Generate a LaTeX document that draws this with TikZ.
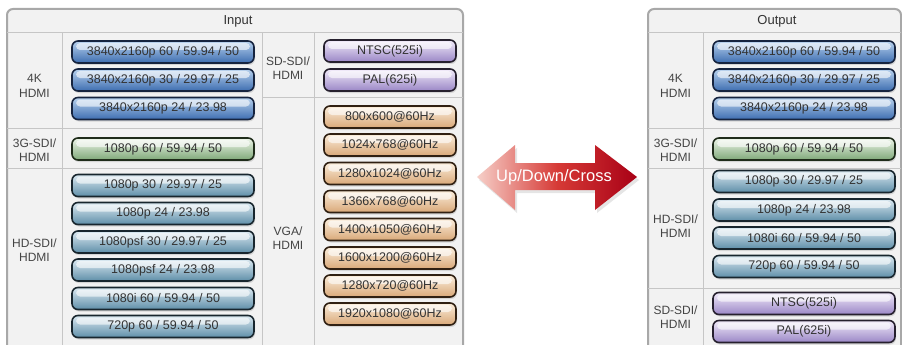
\documentclass[tikz,border=0pt]{standalone}
\usepackage{fontspec}
\setmainfont{Liberation Sans}
\usetikzlibrary{shadows}
\definecolor{txt}{HTML}{333333}
\definecolor{lbl}{HTML}{444444}
\definecolor{panelbg}{HTML}{F2F2F2}
\definecolor{panelbd}{HTML}{A8A8A8}
\definecolor{divider}{HTML}{C6C6C6}
\definecolor{bluedk}{HTML}{16243F}
\definecolor{bluelt}{HTML}{B8D2EE}
\definecolor{bluemd}{HTML}{3D6DB0}
\definecolor{greendk}{HTML}{1F2C1A}
\definecolor{greenlt}{HTML}{EEF6EA}
\definecolor{greenmd}{HTML}{7FA878}
\definecolor{tealdk}{HTML}{18262E}
\definecolor{teallt}{HTML}{DCEAF2}
\definecolor{tealmd}{HTML}{5E8EA8}
\definecolor{purpdk}{HTML}{26202E}
\definecolor{purplt}{HTML}{F2ECFA}
\definecolor{purpmd}{HTML}{9A86C6}
\definecolor{tandk}{HTML}{302012}
\definecolor{tanlt}{HTML}{FBEEDC}
\definecolor{tanmd}{HTML}{D9A878}
\definecolor{arrowlt}{HTML}{F6CFC8}
\definecolor{arrowmd}{HTML}{D63A36}
\definecolor{arrowdk}{HTML}{A80016}
\begin{document}
\begin{tikzpicture}[x=1pt,y=-1pt,
  btn/.style={rounded corners=6pt, line width=1.6pt, minimum height=22pt,
    inner sep=0pt, font=\fontsize{12.5}{14}\selectfont, text=txt,
    drop shadow={shadow xshift=1pt, shadow yshift=-2pt, opacity=0.25},
    path picture={\fill[white, opacity=0.6, rounded corners=4pt]
      ([xshift=4pt,yshift=-2pt]path picture bounding box.north west) rectangle
      ([xshift=-4pt,yshift=-9pt]path picture bounding box.north east);}},
  bwide/.style={btn, minimum width=182pt},
  bnarrow/.style={btn, minimum width=132pt},
  bblue/.style={draw=bluedk, top color=bluelt, bottom color=bluemd},
  bgreen/.style={draw=greendk, top color=greenlt, bottom color=greenmd},
  bteal/.style={draw=tealdk, top color=teallt, bottom color=tealmd},
  bpurp/.style={draw=purpdk, top color=purplt, bottom color=purpmd},
  btan/.style={draw=tandk, top color=tanlt, bottom color=tanmd},
  panel/.style={fill=panelbg, draw=panelbd, line width=2pt, rounded corners=6pt},
  divline/.style={draw=divider, line width=1pt},
  rowlabel/.style={align=center, font=\fontsize{12}{14.5}\selectfont, text=lbl},
  header/.style={font=\fontsize{13}{15}\selectfont, text=txt}
]
\useasboundingbox (0,0) rectangle (902,345);
\clip (0,0) rectangle (902,345);
\fill[white] (0,0) rectangle (902,345);

% ---------- Input panel ----------
\path[panel] (7,9) rectangle (463,370);
\draw[divline] (7,33) -- (463,33);
\draw[divline] (62,33) -- (62,370);
\draw[divline] (262,33) -- (262,370);
\draw[divline] (314,33) -- (314,370);
\draw[divline] (7,128) -- (262,128);
\draw[divline] (7,168) -- (262,168);
\draw[divline] (262,97) -- (463,97);
\node[header] (inhead) at (238,21) {Input};

\node[rowlabel] (in4k) at (34.5,86) {4K\\HDMI};
\node[rowlabel] (in3g) at (34.5,150) {3G-SDI/\\HDMI};
\node[rowlabel] (inhd) at (34.5,250) {HD-SDI/\\HDMI};
\node[rowlabel] (insd) at (288,68) {SD-SDI/\\HDMI};
\node[rowlabel] (invga) at (288,238) {VGA/\\HDMI};

\node[bwide,bblue] (i1) at (163,52) {3840x2160p 60 / 59.94 / 50};
\node[bwide,bblue] (i2) at (163,80) {3840x2160p 30 / 29.97 / 25};
\node[bwide,bblue] (i3) at (163,108.5) {3840x2160p 24 / 23.98};
\node[bwide,bgreen] (i4) at (163,149) {1080p 60 / 59.94 / 50};
\node[bwide,bteal] (i5) at (163,185.5) {1080p 30 / 29.97 / 25};
\node[bwide,bteal] (i6) at (163,213.5) {1080p 24 / 23.98};
\node[bwide,bteal] (i7) at (163,242) {1080psf 30 / 29.97 / 25};
\node[bwide,bteal] (i8) at (163,270) {1080psf 24 / 23.98};
\node[bwide,bteal] (i9) at (163,298.5) {1080i 60 / 59.94 / 50};
\node[bwide,bteal] (i10) at (163,326.5) {720p 60 / 59.94 / 50};

\node[bnarrow,bpurp] (j1) at (390,51) {NTSC(525i)};
\node[bnarrow,bpurp] (j2) at (390,80) {PAL(625i)};
\node[bnarrow,btan] (j3) at (390,117) {800x600@60Hz};
\node[bnarrow,btan] (j4) at (390,145) {1024x768@60Hz};
\node[bnarrow,btan] (j5) at (390,173.5) {1280x1024@60Hz};
\node[bnarrow,btan] (j6) at (390,201.5) {1366x768@60Hz};
\node[bnarrow,btan] (j7) at (390,229.5) {1400x1050@60Hz};
\node[bnarrow,btan] (j8) at (390,258) {1600x1200@60Hz};
\node[bnarrow,btan] (j9) at (390,286) {1280x720@60Hz};
\node[bnarrow,btan] (j10) at (390,314) {1920x1080@60Hz};

% ---------- Arrow ----------
\path[left color=arrowlt, right color=arrowdk, middle color=arrowmd,
  drop shadow={shadow xshift=2pt, shadow yshift=-3pt, opacity=0.2}]
  (477,177) -- (515,145) -- (515,163) -- (595,163) -- (595,145) -- (637,177)
  -- (595,210) -- (595,190) -- (515,190) -- (515,210) -- cycle;
\node[text=white, font=\fontsize{16.5}{18}\selectfont] (arrtxt) at (554,177) {Up/Down/Cross};

% ---------- Output panel ----------
\path[panel] (648,9) rectangle (901,370);
\draw[divline] (648,33) -- (901,33);
\draw[divline] (703,33) -- (703,370);
\draw[divline] (648,128) -- (901,128);
\draw[divline] (648,168) -- (901,168);
\draw[divline] (648,288) -- (901,288);
\node[header] (outhead) at (777,21) {Output};

\node[rowlabel] (o4k) at (675.5,86) {4K\\HDMI};
\node[rowlabel] (o3g) at (675.5,150) {3G-SDI/\\HDMI};
\node[rowlabel] (ohd) at (675.5,226) {HD-SDI/\\HDMI};
\node[rowlabel] (osd) at (675.5,317) {SD-SDI/\\HDMI};

\node[bwide,bblue] (o1) at (804,52) {3840x2160p 60 / 59.94 / 50};
\node[bwide,bblue] (o2) at (804,80) {3840x2160p 30 / 29.97 / 25};
\node[bwide,bblue] (o3) at (804,108.5) {3840x2160p 24 / 23.98};
\node[bwide,bgreen] (o4) at (804,149) {1080p 60 / 59.94 / 50};
\node[bwide,bteal] (o5) at (804,181.5) {1080p 30 / 29.97 / 25};
\node[bwide,bteal] (o6) at (804,210) {1080p 24 / 23.98};
\node[bwide,bteal] (o7) at (804,238) {1080i 60 / 59.94 / 50};
\node[bwide,bteal] (o8) at (804,266.5) {720p 60 / 59.94 / 50};
\node[bwide,bpurp] (o9) at (804,303.5) {NTSC(525i)};
\node[bwide,bpurp] (o10) at (804,331.5) {PAL(625i)};
\end{tikzpicture}
\end{document}
